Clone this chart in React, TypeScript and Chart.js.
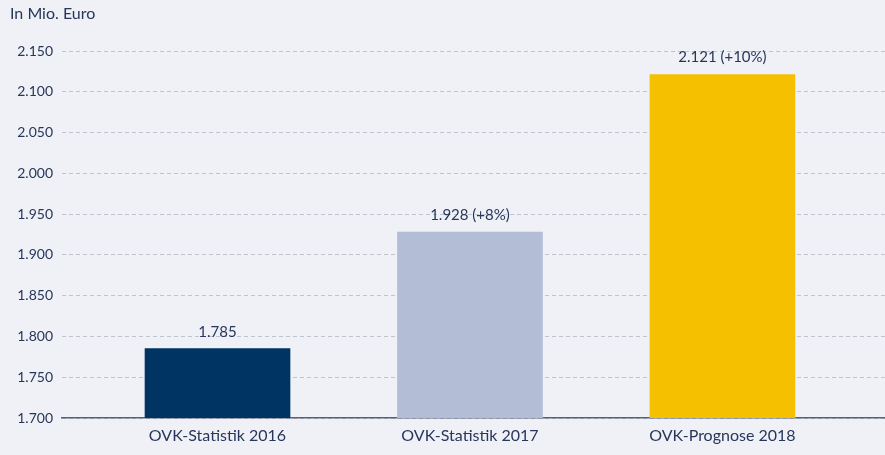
import React, { useEffect, useRef } from "react";
import { Chart, registerables } from "chart.js";

Chart.register(...registerables);

const categories = ["OVK-Statistik 2016", "OVK-Statistik 2017", "OVK-Prognose 2018"];
const values = [1785, 1928, 2121];
const changeLabels = ["", " (+8%)", " (+10%)"];
const barColors = ["#003463", "#b4bdd6", "#f5c000"];
const yTicks = [1700, 1750, 1800, 1850, 1900, 1950, 2000, 2050, 2100, 2150];
const unitLabel = "In Mio. Euro";

const FONT = "Lato, 'Open Sans', sans-serif";
const TEXT = "#27365a";
const BG = "#eff1f6";

const fmt = (v: number) => v.toLocaleString("de-DE");

export default function App() {
  const ref = useRef<HTMLCanvasElement | null>(null);

  useEffect(() => {
    document.body.style.margin = "0";
    document.body.style.background = BG;
    const canvas = ref.current!;
    const labelPlugin = {
      id: "labels",
      afterDatasetsDraw(chart: any) {
        const ctx = chart.ctx;
        ctx.save();
        ctx.fillStyle = TEXT;
        ctx.font = `15px ${FONT}`;
        ctx.textAlign = "center";
        ctx.textBaseline = "middle";
        const meta = chart.getDatasetMeta(0);
        meta.data.forEach((bar: any, i: number) => {
          ctx.fillText(fmt(values[i]) + changeLabels[i], bar.x, bar.y - 17);
        });
        ctx.textAlign = "left";
        ctx.font = `16px ${FONT}`;
        ctx.fillText(unitLabel, 10, 14);
        ctx.restore();
      },
    };
    const chart = new Chart(canvas, {
      type: "bar",
      data: {
        datasets: [
          {
            data: values.map((v, i) => ({ x: i, y: v })),
            backgroundColor: barColors,
            barThickness: 145,
          },
        ],
      },
      options: {
        animation: false,
        responsive: false,
        maintainAspectRatio: false,
        layout: { padding: { top: 51, right: 0, left: 0, bottom: 0 } },
        plugins: { legend: { display: false }, tooltip: { enabled: false } },
        scales: {
          x: {
            type: "linear",
            offset: false,
            bounds: "data",
            min: -0.616,
            max: 2.644,
            afterBuildTicks: (s: any) => {
              s.ticks = categories.map((_, i) => ({ value: i }));
            },
            afterFit: (s: any) => {
              s.height = 37;
            },
            ticks: {
              callback: (v: any) => categories[v as number] ?? "",
              color: TEXT,
              font: { family: FONT, size: 16 },
              padding: 8,
              maxRotation: 0,
            },
            grid: { display: false, drawTicks: false },
            border: { display: true, color: "#56627c", width: 1.5 },
          },
          y: {
            min: 1700,
            max: 2150,
            afterBuildTicks: (s: any) => {
              s.ticks = yTicks.map((v) => ({ value: v }));
            },
            afterFit: (s: any) => {
              s.width = 62;
            },
            ticks: {
              callback: (v: any) => fmt(v as number),
              color: TEXT,
              font: { family: FONT, size: 14 },
              padding: 9,
            },
            grid: { color: "#c0c4cd", drawTicks: false, lineWidth: 1 },
            border: { display: false, dash: [4, 3] },
          },
        },
      },
      plugins: [labelPlugin],
    } as any);
    return () => chart.destroy();
  }, []);

  return (
    <div style={{ width: 885, height: 455, background: BG }}>
      <canvas ref={ref} width={885} height={455} style={{ display: "block" }} />
    </div>
  );
}
